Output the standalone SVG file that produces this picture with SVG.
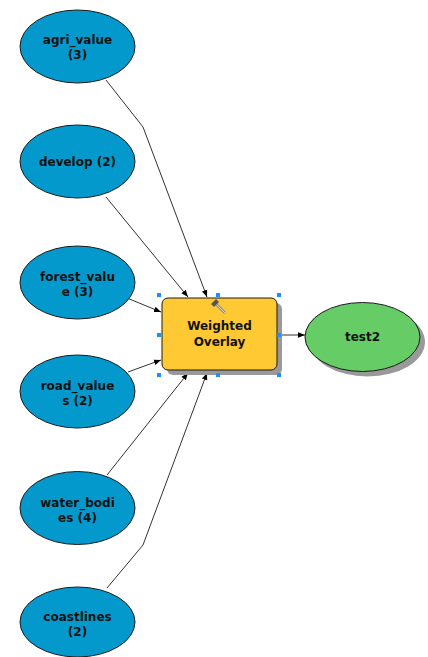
<svg xmlns="http://www.w3.org/2000/svg" width="428" height="657" viewBox="0 0 428 657">
<defs>
<style>
.in{fill:#0399CC;stroke:#1a1a1a;stroke-width:1}
.lbl{font-family:"DejaVu Sans","Liberation Sans",sans-serif;font-weight:bold;font-size:12px;fill:#111;text-anchor:middle}
.con{fill:none;stroke:#333;stroke-width:1}
.shadow{fill:#999}
.h{fill:#1E8FFF}
</style>
<marker id="ar" viewBox="0 0 10 10" refX="10" refY="5" markerWidth="7" markerHeight="7" markerUnits="userSpaceOnUse" orient="auto">
<path d="M0,1 L10,5 L0,9 Z" fill="#000"/>
</marker>
</defs>
<rect width="428" height="657" fill="#fff"/>
<g id="connectors">
<polyline class="con" points="106,80 143,127 207,297" marker-end="url(#ar)"/>
<polyline class="con" points="106,197 188,297" marker-end="url(#ar)"/>
<polyline class="con" points="127,298 161,312" marker-end="url(#ar)"/>
<polyline class="con" points="128,372 161,360" marker-end="url(#ar)"/>
<polyline class="con" points="107,475 188,373" marker-end="url(#ar)"/>
<polyline class="con" points="107,588 143,545 207,373" marker-end="url(#ar)"/>
<polyline class="con" points="277,335 305,335" marker-end="url(#ar)"/>
</g>
<g id="agri_value">
<ellipse class="in" cx="77.5" cy="46.5" rx="57.5" ry="36.5"/>
<text class="lbl" x="77.5" y="44">agri_value</text>
<text class="lbl" x="77.5" y="59">(3)</text>
</g>
<g id="develop">
<ellipse class="in" cx="77.5" cy="161.5" rx="57.5" ry="36.5"/>
<text class="lbl" x="77.5" y="166">develop (2)</text>
</g>
<g id="forest_value">
<ellipse class="in" cx="77.5" cy="282.5" rx="57.5" ry="36.5"/>
<text class="lbl" x="77.5" y="280.5">forest_valu</text>
<text class="lbl" x="77.5" y="295.5">e (3)</text>
</g>
<g id="road_values">
<ellipse class="in" cx="77.5" cy="391.5" rx="57.5" ry="36.5"/>
<text class="lbl" x="77.5" y="390">road_value</text>
<text class="lbl" x="77.5" y="405">s (2)</text>
</g>
<g id="water_bodies">
<ellipse class="in" cx="77.5" cy="508" rx="57.5" ry="36.5"/>
<text class="lbl" x="77.5" y="506.5">water_bodi</text>
<text class="lbl" x="77.5" y="521.5">es (4)</text>
</g>
<g id="coastlines">
<ellipse class="in" cx="77.5" cy="622" rx="57.5" ry="35"/>
<text class="lbl" x="77.5" y="621">coastlines</text>
<text class="lbl" x="77.5" y="636">(2)</text>
</g>
<g id="weighted_overlay">
<rect class="shadow" x="167" y="303" width="115" height="72" rx="6"/>
<rect x="162" y="298" width="115" height="72" rx="6" fill="#FFC933" stroke="#1a1a1a" stroke-width="1"/>
<text class="lbl" x="219.5" y="330">Weighted</text>
<text class="lbl" x="219.5" y="346">Overlay</text>
<g id="tool-icon">
<line x1="216" y1="304" x2="225" y2="313" stroke="#888" stroke-width="2.5"/>
<line x1="216" y1="304" x2="225" y2="313" stroke="#ddd" stroke-width="1"/>
<path d="M211,304 L216,299 L219,302 L214,307 Z" fill="#555"/>
</g>
<rect class="h" x="157" y="293" width="4" height="4"/>
<rect class="h" x="216" y="293" width="4" height="4"/>
<rect class="h" x="277" y="293" width="4" height="4"/>
<rect class="h" x="157" y="333" width="4" height="4"/>
<rect class="h" x="277" y="333" width="4" height="4"/>
<rect class="h" x="157" y="373" width="4" height="4"/>
<rect class="h" x="216" y="373" width="4" height="4"/>
<rect class="h" x="277" y="373" width="4" height="4"/>
</g>
<g id="test2">
<ellipse class="shadow" cx="367.5" cy="342" rx="57.5" ry="34.5"/>
<ellipse cx="362.5" cy="337" rx="57.5" ry="34.5" fill="#66CC66" stroke="#1a1a1a" stroke-width="1"/>
<text class="lbl" x="362.5" y="341">test2</text>
</g>
</svg>
